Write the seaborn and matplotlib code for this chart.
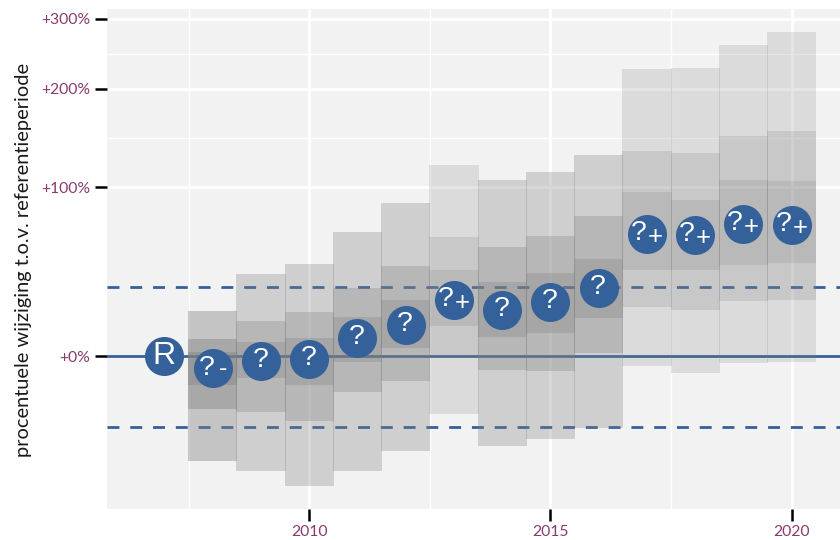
import matplotlib
matplotlib.use('Agg')
import matplotlib.pyplot as plt
import seaborn as sns
import numpy as np
import pandas as pd

# percent change per year
years = [2008, 2009, 2010, 2011, 2012, 2013, 2014, 2015, 2016, 2017, 2018, 2019, 2020]
outer_top = [20.5, 40.3, 46.1, 66.6, 87.7, 119.4, 106.3, 113.1, 128.5, 225.2, 226.5, 258.8, 278.5]
mid_top = [7.4, 15.7, 20.0, 32.4, 44.9, 63.3, 56.7, 63.9, 77.9, 132.3, 130.4, 147.0, 152.2]
inner_top = [1.9, 6.1, 7.9, 17.6, 26.1, 42.6, 35.7, 40.8, 49.2, 96.3, 90.0, 106.3, 105.4]
inner_bottom = [-11.0, -8.4, -11.0, -2.2, 3.6, 13.3, 8.3, 10.1, 17.1, 42.6, 42.6, 45.5, 46.7]
mid_bottom = [-19.4, -20.4, -23.2, -13.5, -9.6, -0.6, -5.4, -5.8, 1.4, 22.5, 21.0, 25.6, 26.1]
outer_bottom = [-34.9, -37.5, -41.2, -37.5, -32.1, -21.0, -30.7, -28.7, -25.4, -3.8, -6.5, -2.6, -2.2]

point_years = [2007] + years
point_values = [0, -4.6, -1.8, -1.0, 7.9, 13.8, 26.1, 21.0, 25.0, 32.4, 65.3, 64.6, 72.2, 71.5]
point_labels = ['R', '?-', '?', '?', '?', '?', '?+', '?', '?', '?', '?+', '?+', '?+', '?+']

band_limits = [33, -25]
y_ticks = [0, 100, 200, 300]
y_tick_labels = ['+0%', '+100%', '+200%', '+300%']
y_minor = [145, 246]
x_ticks = [2010, 2015, 2020]
x_minor = [2007.5, 2012.5, 2017.5]

BLUE = '#35619a'
PLUM = '#8a3a6c'
alphas = {'?-': 0.4, '?': 0.3, '?+': 0.2}

sns.set_theme(style='darkgrid', rc={'axes.facecolor': '#f2f2f2', 'grid.color': 'white'})
plt.rcParams['font.family'] = ['Lato', 'DejaVu Sans']


def forward(p):
    return np.log2(np.maximum(1 + np.asarray(p) / 100, 1e-6))


def inverse(v):
    return (2 ** np.asarray(v) - 1) * 100


fig = plt.figure(figsize=(8.4, 5.4), dpi=100)
ax = fig.add_axes([107 / 840, (540 - 508.5) / 540, 733 / 840, 499.5 / 540])
ax.set_yscale('function', functions=(forward, inverse))
ax.set_axisbelow(True)

ax.axhline(0, color=BLUE, lw=2.0, zorder=1)
for limit in band_limits:
    ax.axhline(limit, color=BLUE, lw=2.0, dashes=(4.3, 3.9), zorder=1)

# three stacked intervals, transparency goes with the class of the year
for i, year in enumerate(years):
    alpha = alphas[point_labels[i + 1]]
    for low, high in [(outer_bottom, outer_top), (mid_bottom, mid_top), (inner_bottom, inner_top)]:
        ax.bar(year, high[i] - low[i], bottom=low[i], width=1.02, color='#808080',
               alpha=alpha, linewidth=0, zorder=2)

df = pd.DataFrame({'year': point_years, 'value': point_values})
sns.scatterplot(data=df, x='year', y='value', s=790, color=BLUE, linewidth=0, zorder=3, ax=ax)

for year, value, label in zip(point_years, point_values, point_labels):
    kw = dict(xycoords='data', textcoords='offset points', color='white', ha='center',
              va='center', family='Liberation Sans', zorder=4)
    if label == 'R':
        ax.annotate('R', (year, value), xytext=(0, 0), fontsize=23, **kw)
    elif label == '?':
        ax.annotate('?', (year, value), xytext=(-0.5, 0.5), fontsize=20.5, **kw)
    elif label == '?+':
        ax.annotate('?', (year, value), xytext=(-6, 0.5), fontsize=20.5, **kw)
        ax.annotate('+', (year, value), xytext=(5.8, -2.5), fontsize=18.5, **kw)
    else:
        ax.annotate('?', (year, value), xytext=(-4, 0), fontsize=20.5, **kw)
        ax.annotate('-', (year, value), xytext=(7.5, -1), fontsize=18, **kw)

ax.set_xlim(2005.81, 2021.0)
ax.set_ylim(-46.4, 315.9)
ax.set_xticks(x_ticks)
ax.set_xticks(x_minor, minor=True)
ax.set_yticks(y_ticks)
ax.set_yticklabels(y_tick_labels)
ax.set_yticks(y_minor, minor=True)
ax.grid(which='major', color='white', lw=2.0)
ax.grid(which='minor', color='white', lw=1.0)
ax.tick_params(which='major', length=8.6, width=1.8, color='black', labelcolor=PLUM,
               labelsize=11.3, left=True, bottom=True, pad=3.5)
ax.tick_params(which='minor', length=0)
for side in ax.spines.values():
    side.set_visible(False)

ax.set_xlabel('')
ax.set_ylabel('procentuele wijziging t.o.v. referentieperiode', fontsize=14.4, color='#1a1a1a')
ax.yaxis.set_label_coords(-0.103, 0.4975)

fig.savefig('out.png', dpi=100)
